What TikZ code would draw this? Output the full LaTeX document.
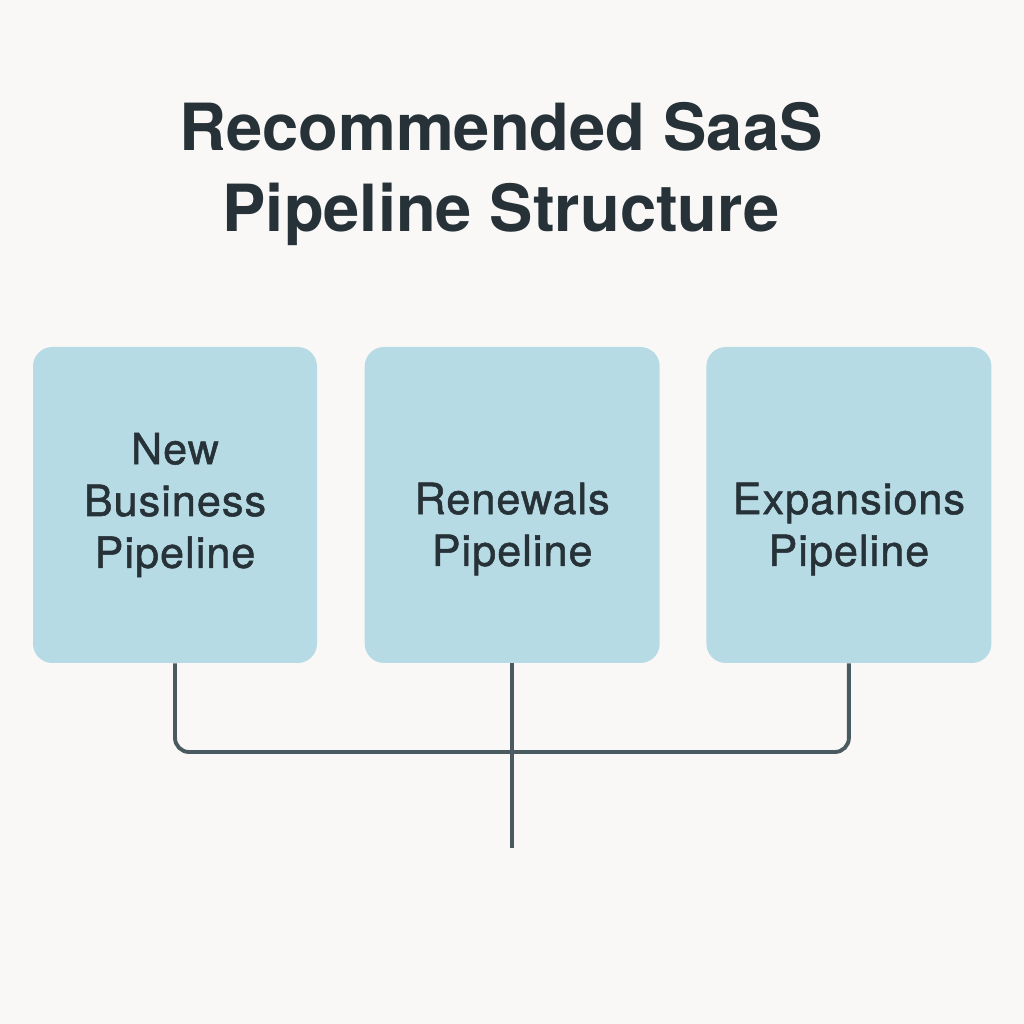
\documentclass[tikz,border=0pt]{standalone}
\usepackage{fontspec}
\setmainfont{TeX Gyre Heros}
\usetikzlibrary{positioning,calc}
\definecolor{bg}{HTML}{F9F8F6}
\definecolor{ink}{HTML}{263238}
\definecolor{tile}{HTML}{B7DBE5}
\definecolor{wire}{HTML}{4A5A61}

\begin{document}
\begin{tikzpicture}[
  title/.style={font=\fontsize{37}{46.5}\selectfont\bfseries, text=ink, align=center},
  tilebox/.style={rounded corners=11pt, fill=tile, draw=none, inner sep=0pt,
                  minimum height=6.32cm, minimum width=#1},
  lbl/.style={font=\fontsize{24.5}{29.5}\selectfont\addfontfeatures{FakeBold=1.2,LetterSpace=2.5},
              text=ink, align=center},
  conn/.style={draw=wire, line width=2.2pt, rounded corners=8pt},
]
\fill[bg] (0,0) rectangle (20.48,20.48);
\useasboundingbox (0,0) rectangle (20.48,20.48);

% ---------- Titel ----------
\node[title] (ttl) at (10.02,17.0) {Recommended SaaS\\Pipeline Structure};

% ---------- Pipelines ----------
\node[tilebox=5.68cm] (b1) at (3.5,10.38) {};
\node[tilebox=5.9cm, right=0.94cm of b1] (b2) {};
\node[tilebox=5.7cm, right=0.92cm of b2] (b3) {};

\node[lbl] (t1) at (b1.center) {New\\Business\\Pipeline};
\node[lbl] (t2) at ($(b2.center)+(0,-0.48)$) {Renewals\\Pipeline};
\node[lbl] (t3) at ($(b3.center)+(0,-0.48)$) {Expansions\\Pipeline};

% ---------- Verbindungen ----------
\coordinate (join) at (b2.south |- 0,5.44);
\coordinate (tail) at ($(b2.south)+(0,-3.7)$);
\draw[conn] (b1.south) |- (join) -| (b3.south);
\draw[conn] (b2.south) -- (tail);
\end{tikzpicture}
\end{document}
